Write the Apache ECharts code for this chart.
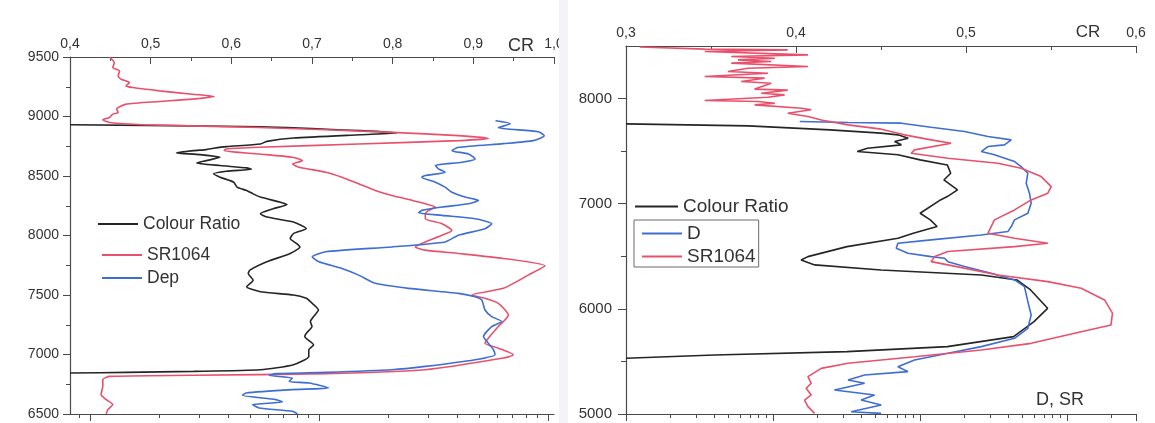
<!DOCTYPE html>
<html>
<head>
<meta charset="utf-8">
<script src="https://cdn.jsdelivr.net/npm/echarts@6/dist/echarts.min.js"></script>
<style>
html, body { margin: 0; padding: 0; background: #ffffff; }
#chart { width: 1155px; height: 423px; }
</style>
</head>
<body>
<div id="chart"></div>
<script>
// ---- Left profile: altitude 6500–9500 m ----
// [colour ratio, altitude]
const leftColourRatio = [
  [0.400,8931],[0.636,8914],[0.760,8881],[0.805,8861],[0.760,8847],[0.677,8819],[0.644,8791],
  [0.636,8769],[0.594,8747],[0.578,8733],[0.569,8722],[0.553,8713],[0.532,8694],[0.561,8680],
  [0.586,8657],[0.569,8629],[0.557,8610],[0.586,8588],[0.619,8568],[0.625,8557],[0.594,8540],
  [0.578,8518],[0.586,8490],[0.603,8448],[0.607,8406],[0.619,8378],[0.627,8350],[0.636,8323],
  [0.660,8281],[0.669,8261],[0.652,8225],[0.636,8183],[0.644,8155],[0.677,8113],[0.693,8058],
  [0.677,8016],[0.673,7974],[0.681,7932],[0.685,7904],[0.673,7849],[0.644,7779],[0.623,7709],
  [0.621,7681],[0.627,7625],[0.619,7569],[0.636,7528],[0.677,7500],[0.693,7472],[0.698,7444],
  [0.708,7374],[0.702,7319],[0.698,7277],[0.700,7235],[0.693,7179],[0.691,7151],[0.702,7081],
  [0.696,7040],[0.696,6984],[0.677,6914],[0.636,6872],[0.553,6858],[0.470,6850],[0.400,6844]
];
// [scattering ratio 1064 nm, altitude]
const leftSR1064 = [
  [1.22,9500],[1.28,9452],[1.26,9411],[1.35,9383],[1.33,9341],[1.37,9313],[1.49,9285],[1.44,9257],
  [1.54,9243],[2.02,9215],[2.81,9187],[3.49,9168],[2.81,9146],[2.02,9126],[1.44,9104],[1.31,9062],
  [1.33,9034],[1.26,9020],[1.22,8992],[1.14,8972],[1.22,8950],[1.71,8931],[5.48,8908],[20.8,8867],
  [40.6,8839],[54.8,8816],[40.6,8797],[14.9,8769],[5.48,8741],[3.93,8727],[3.86,8713],[5.48,8685],
  [7.66,8657],[8.47,8629],[7.66,8601],[8.19,8574],[10.7,8532],[12.6,8490],[14.9,8434],[17.6,8378],
  [20.8,8336],[25.5,8295],[29.1,8267],[32.2,8239],[30.1,8211],[29.1,8183],[29.1,8141],[34.4,8099],
  [38.0,8043],[34.4,8002],[29.1,7946],[26.3,7904],[29.1,7877],[40.6,7849],[63.7,7807],[96.8,7745],
  [81.8,7667],[63.7,7556],[46.4,7500],[53.0,7472],[60.6,7430],[67.0,7330],[60.6,7235],[54.8,7137],
  [53.0,7095],[60.6,7053],[70.4,6997],[63.7,6970],[29.1,6872],[10.7,6839],[2.81,6825],[1.22,6816],
  [1.14,6789],[1.14,6733],[1.12,6663],[1.18,6621],[1.26,6579],[1.20,6537],[1.18,6501]
];
// [depolarisation, altitude]
const leftDep = [
  [58.9,8964],[68.4,8939],[60.6,8906],[90.5,8872],[96.1,8839],[86.0,8797],[63.7,8772],[40.6,8741],
  [38.0,8713],[44.9,8685],[48.0,8643],[42.0,8615],[32.2,8588],[33.2,8560],[35.5,8532],[29.1,8504],
  [28.1,8490],[32.2,8448],[35.5,8406],[38.0,8364],[43.4,8323],[49.6,8295],[44.9,8267],[34.4,8239],
  [28.1,8211],[27.2,8191],[34.4,8169],[48.0,8141],[56.7,8099],[53.0,8057],[40.6,8002],[35.5,7946],
  [20.8,7904],[10.7,7863],[9.35,7821],[10.0,7779],[12.6,7723],[14.9,7667],[17.6,7598],[24.6,7556],
  [40.6,7514],[48.0,7486],[51.3,7458],[53.0,7374],[56.7,7319],[62.7,7277],[56.7,7235],[52.2,7151],
  [54.8,7095],[57.7,7040],[58.6,6998],[48.0,6956],[29.1,6900],[20.8,6872],[10.7,6850],[6.48,6839],
  [6.06,6825],[7.66,6802],[7.41,6774],[9.05,6760],[11.0,6719],[7.66,6705],[4.80,6677],[4.64,6657],
  [6.48,6621],[6.93,6601],[5.13,6579],[5.48,6551],[7.66,6523],[8.05,6501]
];

// ---- Right profile: altitude 5000–8500 m ----
const rightColourRatio = [
  [0.300,7759],[0.372,7740],[0.420,7702],[0.450,7671],[0.460,7655],[0.466,7623],[0.458,7591],
  [0.462,7560],[0.442,7528],[0.436,7496],[0.460,7465],[0.473,7417],[0.489,7369],[0.491,7290],
  [0.487,7226],[0.495,7131],[0.489,7068],[0.485,7036],[0.473,6909],[0.479,6846],[0.483,6783],
  [0.469,6719],[0.460,6671],[0.430,6592],[0.407,6497],[0.403,6465],[0.411,6418],[0.450,6370],
  [0.509,6322],[0.530,6275],[0.538,6180],[0.548,6005],[0.540,5878],[0.528,5736],[0.489,5641],
  [0.430,5593],[0.352,5561],[0.300,5530]
];
const rightD = [
  [15.2,7782],[32.4,7772],[74.6,7766],[119,7728],[201,7687],[290,7639],[418,7607],[376,7560],
  [290,7544],[261,7496],[321,7465],[440,7401],[488,7353],[542,7290],[528,7195],[556,7100],
  [571,7005],[542,6909],[440,6846],[418,6783],[396,6735],[261,6703],[119,6656],[70.8,6624],
  [69.0,6576],[82.8,6529],[119,6497],[147,6481],[155,6449],[201,6402],[305,6338],[440,6275],
  [514,6211],[542,6069],[571,5942],[542,5815],[440,5720],[261,5641],[155,5577],[91.8,5514],
  [70.8,5450],[82.8,5403],[42.0,5371],[32.4,5323],[42.0,5292],[26.2,5228],[49.1,5181],
  [39.8,5133],[54.5,5085],[34.0,5022],[54.5,5006]
];
const rightSR1064 = [
  [1.24,8490],[3.43,8470],[12.6,8463],[3.43,8448],[17.3,8416],[5.20,8400],[10.3,8384],[5.77,8368],
  [9.73,8352],[5.20,8337],[17.3,8305],[6.75,8289],[4.94,8257],[9.24,8241],[3.43,8210],[8.77,8194],
  [6.08,8162],[9.73,8146],[7.50,8090],[12.6,8080],[8.32,8051],[12.0,8035],[9.24,8013],[3.43,7981],
  [7.90,7972],[10.3,7956],[7.50,7940],[15.6,7908],[18.2,7893],[12.6,7861],[17.3,7829],[21.3,7797],
  [32.4,7750],[54.5,7709],[78.5,7655],[119,7607],[163,7575],[91.8,7512],[87.1,7480],[155,7433],
  [339,7385],[488,7337],[668,7258],[782,7163],[741,7100],[571,7036],[440,6941],[321,6846],
  [305,6782],[290,6719],[440,6671],[741,6624],[440,6592],[155,6545],[126,6497],[119,6449],
  [155,6418],[339,6322],[741,6259],[1250,6196],[1803,6085],[2040,5960],[1995,5847],[1250,5783],
  [571,5672],[261,5609],[91.8,5545],[32.4,5482],[21.3,5434],[17.3,5355],[18.2,5292],[16.8,5244],
  [18.2,5181],[16.4,5133],[17.3,5070],[19.2,5006]
];

// Tick positions for the unlabeled logarithmic D/SR axes
const leftLogMajor = [1, 10, 100];
const leftLogMinor = [0.9, 2, 3, 4, 5, 6, 7, 8, 9, 20, 30, 40, 50, 60, 70, 80, 90];
const rightLogMajor = [1, 10, 100, 1000, 2950];
const rightLogMinor = [2, 3, 4, 5, 6, 7, 8, 9, 20, 30, 40, 50, 60, 70, 80, 90,
  200, 300, 400, 500, 600, 700, 800, 900, 2000];
const rightAltMajor = [5000, 6000, 7000, 8000];
const rightAltMinor = [5500, 6500, 7500];

const FONT = '"Liberation Sans", Arial, sans-serif';
const AXIS_COLOR = '#4a4a4a';
const TEXT_COLOR = '#333333';
const C_BLACK = '#252525', C_RED = '#e9506c', C_BLUE = '#3e6ed4';
const comma = v => v.toFixed(1).replace('.', ',');
const plain = v => String(Math.round(v));

const line = { lineStyle: { color: AXIS_COLOR, width: 1.2 }, onZero: false };

function crAxis(grid, min, max) {
  return {
    gridIndex: grid, type: 'value', position: 'top', min: min, max: max, interval: 0.1,
    axisLine: Object.assign({ show: true }, line),
    axisTick: { show: true, inside: true, length: 7, lineStyle: { color: AXIS_COLOR } },
    minorTick: { show: true, splitNumber: 2, length: 4, lineStyle: { color: AXIS_COLOR } },
    axisLabel: { formatter: comma, fontSize: 14, fontFamily: FONT, color: TEXT_COLOR, margin: 6 },
    splitLine: { show: false }
  };
}
function logAxis(grid, min, max, ticks, len, showLine) {
  return {
    gridIndex: grid, type: 'log', logBase: 10, position: 'bottom', min: min, max: max,
    axisLine: Object.assign({ show: showLine }, line),
    axisTick: { show: true, inside: false, length: len, customValues: ticks,
                lineStyle: { color: AXIS_COLOR } },
    axisLabel: { show: false },
    splitLine: { show: false }, minorTick: { show: false }
  };
}

const lineSeries = (name, data, color, xi, yi, smooth) => ({
  name: name, type: 'line', data: data, xAxisIndex: xi, yAxisIndex: yi,
  symbol: 'none', smooth: smooth, clip: true, animation: false,
  lineStyle: { color: color, width: 1.6 }, itemStyle: { color: color }
});

// legend keys drawn as short solid strokes
const legendBase = {
  orient: 'vertical', icon: 'rect', itemWidth: 40, itemHeight: 2, itemGap: 5, padding: 0,
  selectedMode: false,
  textStyle: { fontFamily: FONT, color: TEXT_COLOR }
};

const chart = echarts.init(document.getElementById('chart'));
chart.setOption({
  backgroundColor: '#ffffff',
  animation: false,
  grid: [
    { left: 70, top: 57, width: 484, height: 357, outerBoundsMode: 'none' },
    { left: 626, top: 46, width: 510, height: 368, outerBoundsMode: 'none' }
  ],
  xAxis: [
    crAxis(0, 0.4, 1.0),
    logAxis(0, 0.82, 106, leftLogMajor, 7, true),
    logAxis(0, 0.82, 106, leftLogMinor, 4, false),
    crAxis(1, 0.3, 0.6),
    logAxis(1, 1, 2950, rightLogMajor, 7, true),
    logAxis(1, 1, 2950, rightLogMinor, 4, false)
  ],
  yAxis: [
    {
      gridIndex: 0, type: 'value', position: 'left', min: 6500, max: 9500, interval: 500,
      axisLine: Object.assign({ show: true }, line),
      axisTick: { show: true, inside: false, length: 7, lineStyle: { color: AXIS_COLOR } },
      minorTick: { show: true, splitNumber: 2, length: 4, lineStyle: { color: AXIS_COLOR } },
      axisLabel: { formatter: plain, fontSize: 14, fontFamily: FONT, color: TEXT_COLOR, margin: 11 },
      splitLine: { show: false }
    },
    {
      gridIndex: 1, type: 'value', position: 'left', min: 5000, max: 8500,
      axisLine: Object.assign({ show: true }, line),
      axisTick: { show: true, inside: false, length: 8, customValues: rightAltMajor,
                  lineStyle: { color: AXIS_COLOR } },
      axisLabel: { formatter: plain, fontSize: 15, fontFamily: FONT, color: TEXT_COLOR, margin: 14,
                   customValues: rightAltMajor },
      splitLine: { show: false }
    },
    {
      gridIndex: 1, type: 'value', position: 'left', min: 5000, max: 8500,
      axisLine: { show: false },
      axisTick: { show: true, inside: false, length: 5, customValues: rightAltMinor,
                  lineStyle: { color: AXIS_COLOR } },
      axisLabel: { show: false },
      splitLine: { show: false }
    }
  ],
  legend: [
    Object.assign({}, legendBase, { data: ['Colour Ratio'], left: 98, top: 215,
      textStyle: Object.assign({}, legendBase.textStyle, { fontSize: 17.5 }) }),
    Object.assign({}, legendBase, { data: ['SR1064', 'Dep'], left: 102, top: 246,
      textStyle: Object.assign({}, legendBase.textStyle, { fontSize: 17.5 }) }),
    Object.assign({}, legendBase, { data: ['Colour Ratio'], left: 635, top: 197, itemWidth: 43,
      textStyle: Object.assign({}, legendBase.textStyle, { fontSize: 19 }) }),
    Object.assign({}, legendBase, { data: ['D', 'SR1064'], left: 634, top: 220, itemGap: 4,
      padding: [4, 3, 1, 8], borderColor: '#6a6a6a', borderWidth: 1,
      textStyle: Object.assign({}, legendBase.textStyle, { fontSize: 19 }) })
  ],
  graphic: [
    { type: 'text', x: 521, y: 46.5, z: 50,
      style: { text: 'CR', fontSize: 18, fontFamily: FONT, fill: TEXT_COLOR, align: 'center', verticalAlign: 'middle' } },
    { type: 'text', x: 1088, y: 32, z: 50,
      style: { text: 'CR', fontSize: 17, fontFamily: FONT, fill: TEXT_COLOR, align: 'center', verticalAlign: 'middle' } },
    { type: 'text', x: 1060, y: 400, z: 50,
      style: { text: 'D, SR', fontSize: 18, fontFamily: FONT, fill: TEXT_COLOR, align: 'center', verticalAlign: 'middle' } },
    // page seam between the two profiles
    { type: 'rect', z: 100, shape: { x: 559, y: 0, width: 9, height: 423 },
      style: { fill: '#f3f4f7' } }
  ],
  series: [
    lineSeries('Colour Ratio', leftColourRatio, C_BLACK, 0, 0, 0.2),
    lineSeries('SR1064', leftSR1064, C_RED, 1, 0, 0.2),
    lineSeries('Dep', leftDep, C_BLUE, 1, 0, 0.2),
    lineSeries('Colour Ratio', rightColourRatio, C_BLACK, 3, 1, false),
    lineSeries('D', rightD, C_BLUE, 4, 1, false),
    lineSeries('SR1064', rightSR1064, C_RED, 4, 1, false)
  ]
});
</script>
</body>
</html>
